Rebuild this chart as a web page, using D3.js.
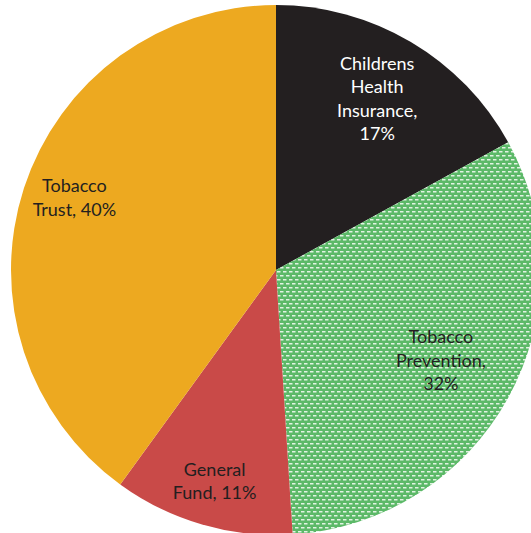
<!DOCTYPE html>
<html>
<head>
<meta charset="utf-8">
<script src="https://cdn.jsdelivr.net/npm/d3@7"></script>
<style>
  body { margin: 0; background: #fff; }
</style>
</head>
<body>
<div class="pie"></div>
<script>
// Data
const labels = [["Childrens", "Health", "Insurance,", "17%"],
                ["Tobacco", "Prevention,", "32%"],
                ["General", "Fund, 11%"],
                ["Tobacco", "Trust, 40%"]];
const values = [17, 32, 11, 40];
const colors = ["#231f20", "url(#dots)", "#c94a48", "#eda920"];
const textColors = ["#ffffff", "#231f20", "#231f20", "#231f20"];

// Mesures
const size = { width: 531, height: 533 };
const center = { x: 276, y: 270 };
const radius = 265;
// how far out each label sits (fraction of radius) + small vertical nudge
const labelPos = [0.75, 0.71, 0.83, 0.80];
const nudge = [0, 0, 0, -7];

const svg = d3.selectAll(".pie")
              .append("svg")
              .attr("width", size.width)
              .attr("height", size.height);

// green pattern with little white dashes
const pat = svg.append("defs").append("pattern")
    .attr("id", "dots")
    .attr("patternUnits", "userSpaceOnUse")
    .attr("width", 6)
    .attr("height", 8);
pat.append("rect").attr("width", 6).attr("height", 8).attr("fill", "#5cb968");
pat.append("rect").attr("x", 1).attr("y", 1).attr("width", 3.5).attr("height", 1.5).attr("fill", "#e2f3e3");
pat.append("rect").attr("x", 4).attr("y", 5).attr("width", 3.5).attr("height", 1.5).attr("fill", "#e2f3e3");
pat.append("rect").attr("x", -2).attr("y", 5).attr("width", 3.5).attr("height", 1.5).attr("fill", "#e2f3e3");

const g = svg.append("g")
    .attr("transform", `translate(${center.x},${center.y})`);

const pie = d3.pie().sort(null).value((d) => d);
const arcs = pie(values);

const arc = d3.arc().innerRadius(0).outerRadius(radius);

g.selectAll("path")
  .data(arcs)
  .enter()
  .append("path")
    .attr("d", arc)
    .attr("fill", (d, i) => colors[i]);

const lineH = 23.5;

const txt = g.selectAll("text.lab")
  .data(arcs)
  .enter()
  .append("text")
    .attr("class", "lab")
    .attr("text-anchor", "middle")
    .attr("font-family", "Lato, 'Open Sans', sans-serif")
    .attr("font-size", 18)
    .attr("fill", (d, i) => textColors[i])
    .attr("transform", (d, i) => {
        const r = radius * labelPos[i];
        const c = d3.arc().innerRadius(r).outerRadius(r).centroid(d);
        const n = labels[i].length;
        return `translate(${c[0]},${c[1] + nudge[i] - (n - 1) * lineH / 2})`;
    });

txt.each(function(d, i) {
    d3.select(this).selectAll("tspan")
      .data(labels[i])
      .enter()
      .append("tspan")
        .attr("x", 0)
        .attr("y", (t, j) => j * lineH)
        .attr("dy", "0.35em")
        .text((t) => t);
});
</script>
</body>
</html>
